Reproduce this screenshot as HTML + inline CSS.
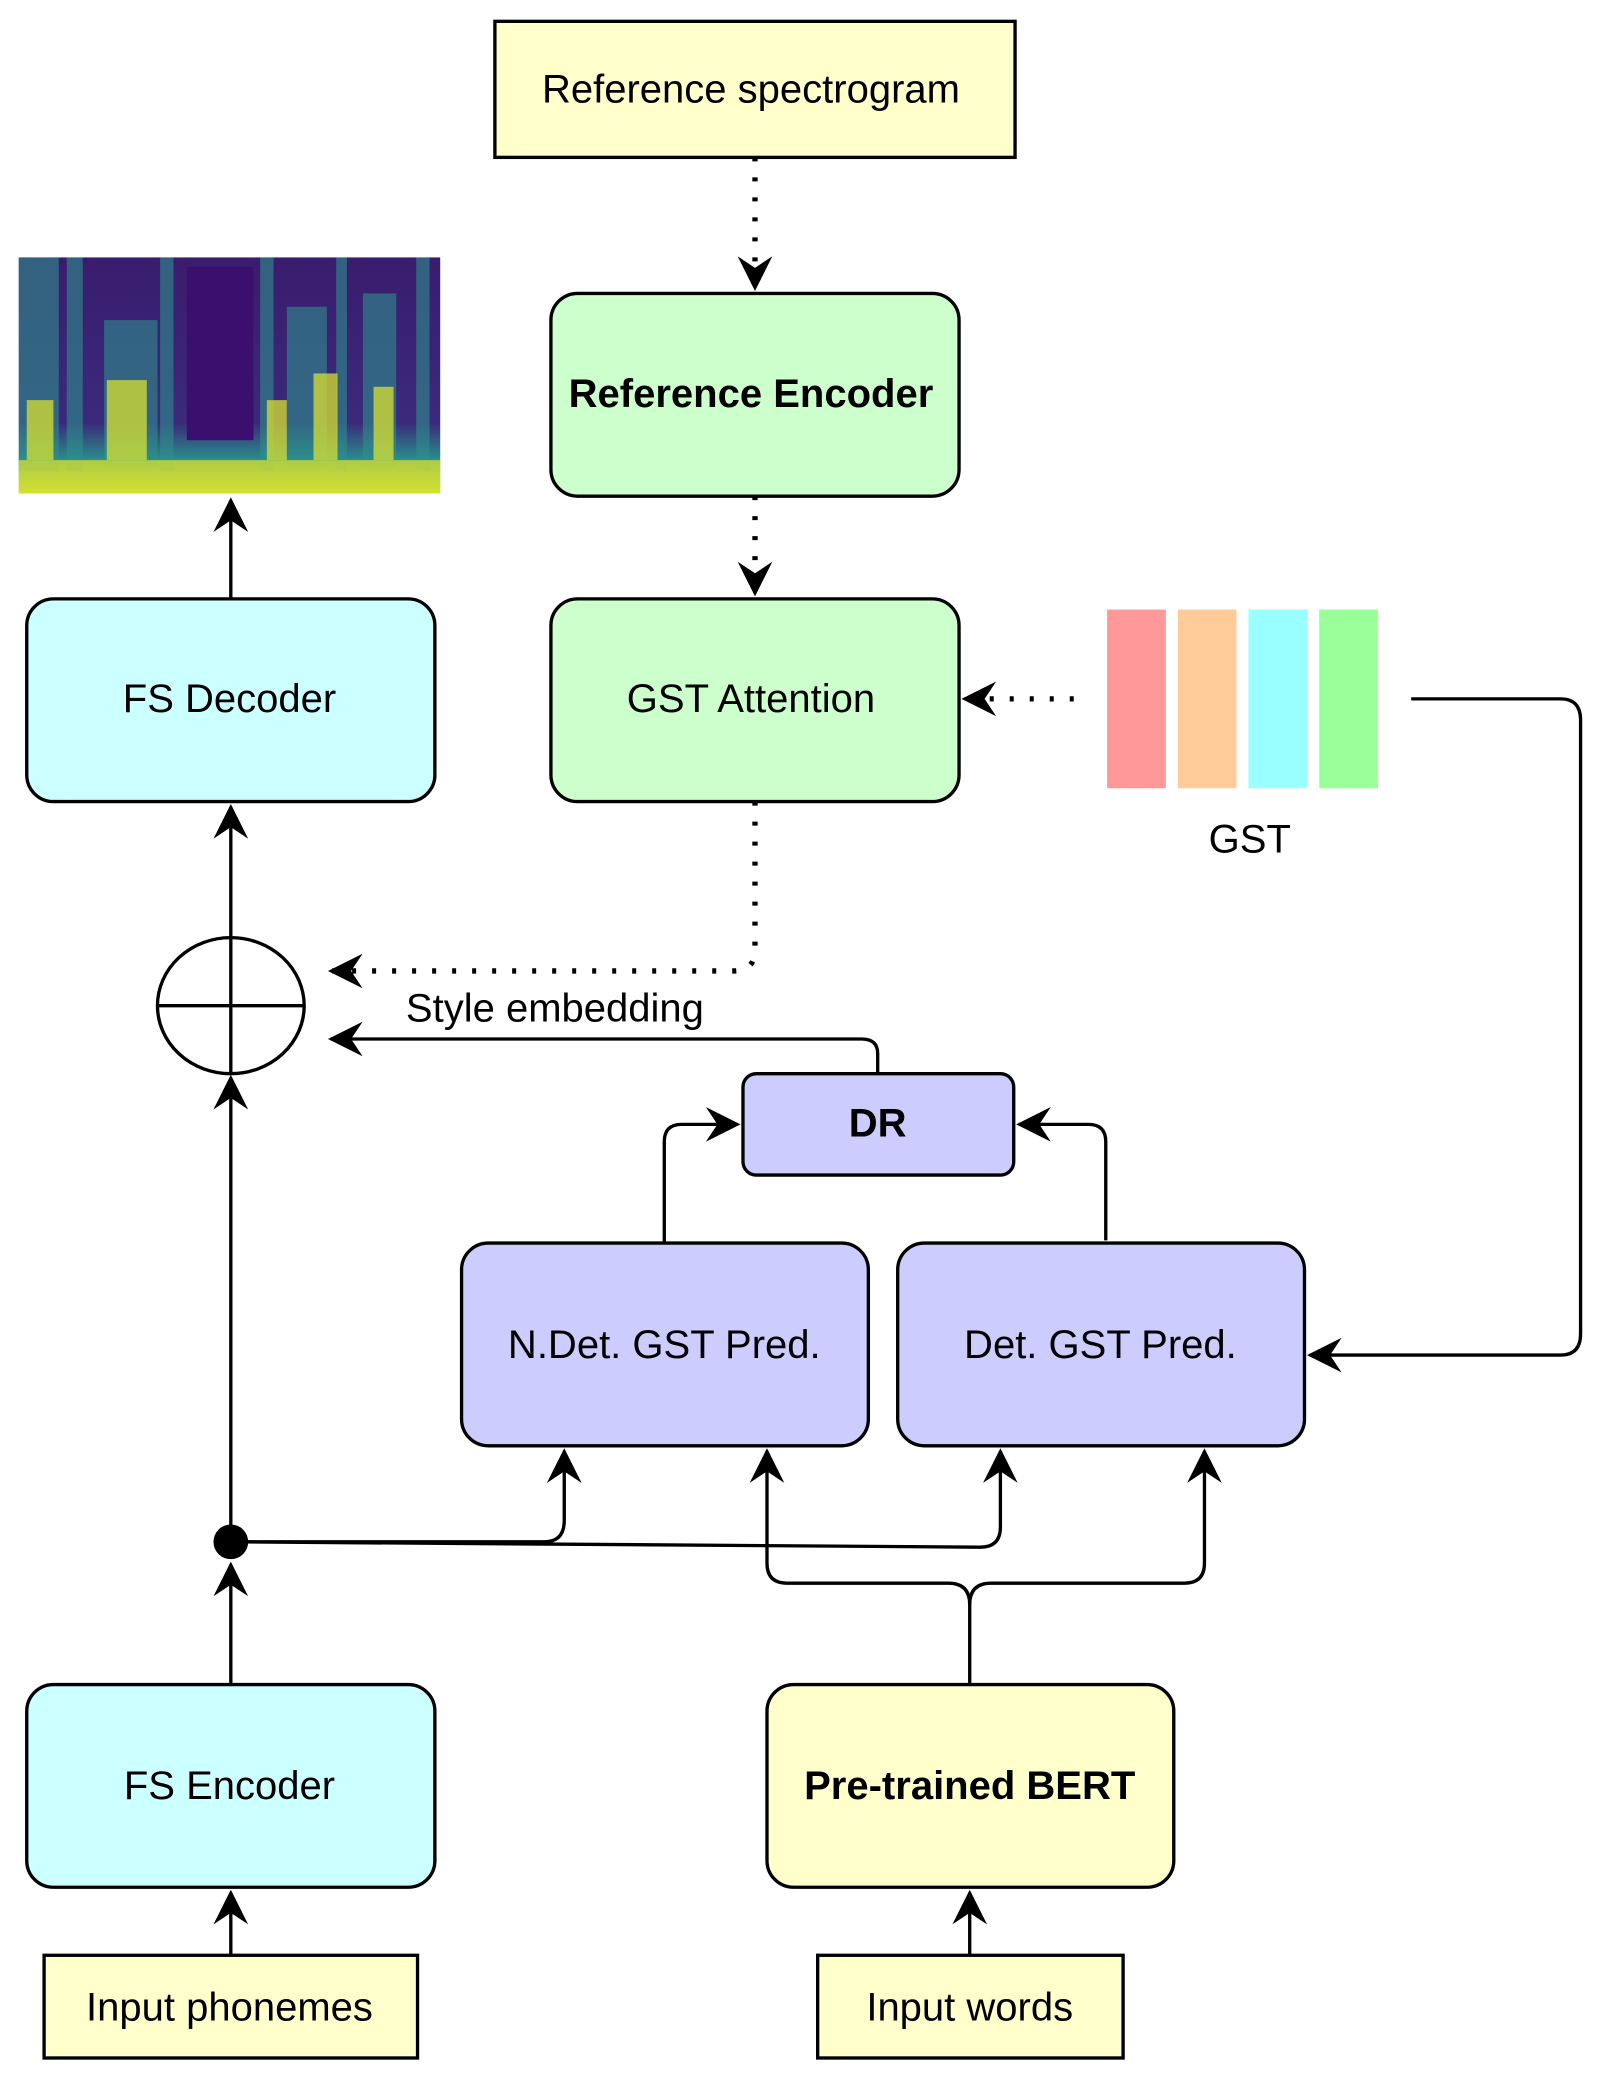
<!DOCTYPE html>
<html><head><meta charset="utf-8"><style>
html,body{margin:0;padding:0;background:#fff;}
svg{display:block;}
text{font-family:"Liberation Sans",sans-serif;font-size:30px;fill:#000;}
.b{font-weight:bold;}
</style></head><body>
<svg width="1614" height="2094" viewBox="0 0 1210 1570" xmlns="http://www.w3.org/2000/svg">
<defs>
<marker id="a2" viewBox="0 0 12 12" refX="11" refY="6" markerWidth="26" markerHeight="26" markerUnits="userSpaceOnUse" orient="auto">
<path d="M0,0 L12,6 L0,12 L4,6 z" fill="#000"/></marker>
<linearGradient id="sg" x1="0" y1="0" x2="0" y2="1">
<stop offset="0" stop-color="#3a1c6e"/><stop offset="0.7" stop-color="#3b2a7a"/><stop offset="0.85" stop-color="#2a8a8a"/><stop offset="1" stop-color="#c8e030"/></linearGradient>
</defs>
<g stroke="#000" stroke-width="2.5" fill="none">
<rect x="371" y="16" width="390" height="102" fill="#ffffcc"/>
<rect x="413" y="220" width="306" height="152" rx="20" fill="#ccffcc"/>
<rect x="413" y="449" width="306" height="152" rx="20" fill="#ccffcc"/>
<rect x="20" y="449" width="306" height="152" rx="20" fill="#ccffff"/>
<rect x="557" y="805" width="203" height="76" rx="10" fill="#ccccff"/>
<rect x="346" y="932" width="305" height="152" rx="20" fill="#ccccff"/>
<rect x="673" y="932" width="305" height="152" rx="20" fill="#ccccff"/>
<rect x="20" y="1263" width="306" height="152" rx="20" fill="#ccffff"/>
<rect x="575" y="1263" width="305" height="152" rx="20" fill="#ffffcc"/>
<rect x="33" y="1466" width="280" height="77" fill="#ffffcc"/>
<rect x="613" y="1466" width="229" height="77" fill="#ffffcc"/>
<ellipse cx="173" cy="754" rx="55" ry="51" fill="#fff"/>
<path d="M118,754 H228 M173,703 V805"/>
<g stroke-width="4" stroke-dasharray="3,12">
<path d="M566,118 V216" marker-end="url(#a2)"/>
<path d="M566,372 V445" marker-end="url(#a2)"/>
<path d="M805,524 H723" marker-end="url(#a2)"/>
<path d="M566,601 V712 Q566,728 550,728 H248" marker-end="url(#a2)"/>
</g>
<path d="M173,448 V375" marker-end="url(#a2)"/>
<path d="M173,703 V605" marker-end="url(#a2)"/>
<path d="M658,804 V790 Q658,779 646,779 H248" marker-end="url(#a2)"/>
<path d="M498,932 V856 Q498,843 511,843 H553" marker-end="url(#a2)"/>
<path d="M829,930 V856 Q829,843 816,843 H764" marker-end="url(#a2)"/>
<path d="M1058,524 H1170 Q1185,524 1185,540 V1000 Q1185,1016 1170,1016 H982" marker-end="url(#a2)"/>
<path d="M173,1156 V808" marker-end="url(#a2)"/>
<path d="M173,1156 H408 Q423,1156 423,1140 V1088" marker-end="url(#a2)"/>
<path d="M173,1156 L735,1160 Q750,1160 750,1145 V1088" marker-end="url(#a2)"/>
<path d="M727,1263 V1203 Q727,1187 711,1187 H590 Q575,1187 575,1172 V1088" marker-end="url(#a2)"/>
<path d="M727,1203 Q727,1187 743,1187 H888 Q903,1187 903,1172 V1088" marker-end="url(#a2)"/>
<path d="M173,1263 V1173" marker-end="url(#a2)"/>
<path d="M173,1466 V1419" marker-end="url(#a2)"/>
<path d="M727,1466 V1419" marker-end="url(#a2)"/>
</g>
<circle cx="173" cy="1156" r="13" fill="#000"/>
<rect x="830" y="457" width="44" height="134" fill="#ff9999"/>
<rect x="883" y="457" width="44" height="134" fill="#ffcc99"/>
<rect x="936" y="457" width="44" height="134" fill="#99ffff"/>
<rect x="989" y="457" width="44" height="134" fill="#99ff99"/>
<rect x="14" y="193" width="316" height="177" fill="url(#sg)"/>
<g fill="#2f8f8c" opacity="0.6">
<rect x="14" y="193" width="30" height="160"/><rect x="50" y="193" width="12" height="160"/>
<rect x="78" y="240" width="40" height="110"/><rect x="120" y="193" width="10" height="160"/>
<rect x="195" y="193" width="10" height="160"/><rect x="215" y="230" width="30" height="120"/>
<rect x="252" y="193" width="8" height="160"/><rect x="272" y="220" width="25" height="130"/>
<rect x="312" y="193" width="10" height="160"/>
</g>
<g fill="#d8e030" opacity="0.75">
<rect x="14" y="345" width="316" height="25"/>
<rect x="20" y="300" width="20" height="45"/><rect x="80" y="285" width="30" height="60"/>
<rect x="200" y="300" width="15" height="45"/><rect x="235" y="280" width="18" height="65"/>
<rect x="280" y="290" width="15" height="55"/>
</g>
<rect x="140" y="200" width="50" height="130" fill="#3b0f6e"/>
<text x="563" y="77" text-anchor="middle">Reference spectrogram</text>
<text x="563" y="305" text-anchor="middle" class="b">Reference Encoder</text>
<text x="563" y="534" text-anchor="middle">GST Attention</text>
<text x="172" y="534" text-anchor="middle">FS Decoder</text>
<text x="937" y="639" text-anchor="middle">GST</text>
<text x="416" y="766" text-anchor="middle">Style embedding</text>
<text x="658" y="852" text-anchor="middle" class="b">DR</text>
<text x="498" y="1018" text-anchor="middle">N.Det. GST Pred.</text>
<text x="825" y="1018" text-anchor="middle">Det. GST Pred.</text>
<text x="172" y="1349" text-anchor="middle">FS Encoder</text>
<text x="727" y="1349" text-anchor="middle" class="b">Pre-trained BERT</text>
<text x="172" y="1515" text-anchor="middle">Input phonemes</text>
<text x="727" y="1515" text-anchor="middle">Input words</text>
</svg>
</body></html>
